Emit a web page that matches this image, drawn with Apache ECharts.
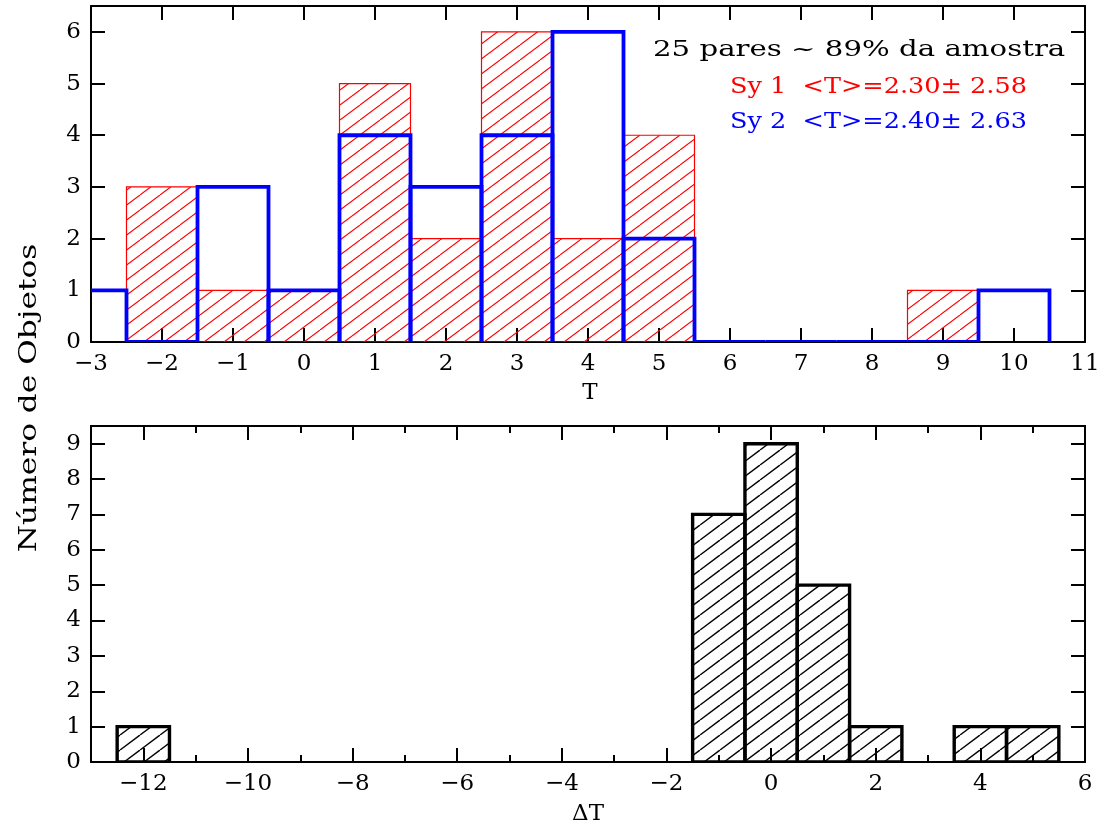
<!DOCTYPE html>
<html><head><meta charset="utf-8">
<script src="https://cdn.jsdelivr.net/npm/echarts@6/dist/echarts.min.js"></script>
<style>html,body{margin:0;padding:0;background:#fff}#c{width:1111px;height:829px}</style>
</head><body><div id="c"></div>
<script>
// ---- data ----
const tBins = [-3,-2,-1,0,1,2,3,4,5,6,7,8,9,10];
const sy1Counts = [0,3,1,1,5,2,6,2,4,0,0,0,1,0];
const sy2Counts = [1,0,3,1,4,3,4,6,2,0,0,0,0,1];
const dtBins = [-12,-11,-10,-9,-8,-7,-6,-5,-4,-3,-2,-1,0,1,2,3,4,5];
const dtCounts = [1,0,0,0,0,0,0,0,0,0,0,7,9,5,1,0,1,1];
const topXTicks = [-3,-2,-1,0,1,2,3,4,5,6,7,8,9,10,11];
const topYTicks = [0,1,2,3,4,5,6];
const botXMajor = [-12,-10,-8,-6,-4,-2,0,2,4,6];
const botXMinor = [-11,-9,-7,-5,-3,-1,1,3,5];
const botYTicks = [0,1,2,3,4,5,6,7,8,9];
const txtHeader = '25 pares ~ 89% da amostra';
const txtSy1 = 'Sy 1  <T>=2.30\u00b1 2.58';
const txtSy2 = 'Sy 2  <T>=2.40\u00b1 2.63';

const FONT = 'DejaVu Serif';
function hatch(color, w, h, lw) {
  const c = document.createElement('canvas'); c.width = w; c.height = h;
  const ctx = c.getContext('2d'); ctx.strokeStyle = color; ctx.lineWidth = lw;
  for (const dx of [-w, 0, w]) { ctx.beginPath(); ctx.moveTo(dx, h); ctx.lineTo(dx + w, 0); ctx.stroke(); }
  return c;
}
const redHatch = {image: hatch('#ff0000', 20, 15, 1.1), repeat: 'repeat'};
const blackHatch = {image: hatch('#000000', 20, 15, 1.4), repeat: 'repeat'};

const fmt = v => (v < 0 ? '\u2212' + (-v) : '' + v);
const lbl = {color: '#000', fontFamily: FONT, fontSize: 23};

function xAx(grid, pos, min, max, ticks, len, labels) {
  return {type: 'value', gridIndex: grid, position: pos, min, max,
    axisLine: {show: true, onZero: false, lineStyle: {color: '#000', width: 2}},
    axisTick: {show: true, inside: true, length: len, customValues: ticks, lineStyle: {color: '#000', width: 2}},
    axisLabel: labels ? Object.assign({show: true, margin: 11, customValues: ticks, formatter: fmt}, lbl) : {show: false},
    splitLine: {show: false}};
}
function yAx(grid, pos, min, max, ticks, labels) {
  return {type: 'value', gridIndex: grid, position: pos, min, max,
    axisLine: {show: true, onZero: false, lineStyle: {color: '#000', width: 2}},
    axisTick: {show: true, inside: true, length: 14, customValues: ticks, lineStyle: {color: '#000', width: 2}},
    axisLabel: labels ? Object.assign({show: true, margin: 10, customValues: ticks, formatter: fmt}, lbl) : {show: false},
    splitLine: {show: false}};
}

function rectSeries(bins, counts, xi, yi, fill, stroke, lw, skipZero) {
  return {type: 'custom', xAxisIndex: xi, yAxisIndex: yi, clip: true,
    data: bins.map((b, i) => [b, counts[i]]).filter(d => !skipZero || d[1] > 0),
    renderItem: (params, api) => {
      const x = api.value(0), y = api.value(1);
      const p0 = api.coord([x - 0.5, y]), p1 = api.coord([x + 0.5, 0]);
      return {type: 'rect', shape: {x: p0[0], y: p0[1], width: p1[0] - p0[0], height: p1[1] - p0[1]},
        style: {fill: fill, stroke: stroke, lineWidth: lw}};
    }};
}
function stepSeries(bins, counts, xi, yi, stroke, lw) {
  return {type: 'custom', xAxisIndex: xi, yAxisIndex: yi, clip: true,
    data: bins.map((b, i) => [b, counts[i]]),
    renderItem: (params, api) => {
      const x = api.value(0), y = api.value(1);
      const pts = [api.coord([x - 0.5, 0]), api.coord([x - 0.5, y]), api.coord([x + 0.5, y]), api.coord([x + 0.5, 0])];
      return {type: 'polyline', shape: {points: pts}, style: {fill: null, stroke: stroke, lineWidth: lw}};
    }};
}

const chart = echarts.init(document.getElementById('c'), null, {renderer: 'canvas'});
chart.setOption({
  animation: false,
  backgroundColor: '#fff',
  grid: [
    {left: 91, right: 26, top: 6, height: 336},
    {left: 91, right: 26, top: 426, height: 336}
  ],
  xAxis: [
    xAx(0, 'bottom', -3, 11, topXTicks, 14, true),
    xAx(0, 'top', -3, 11, topXTicks, 14, false),
    xAx(1, 'bottom', -13, 6, botXMajor, 14, true),
    xAx(1, 'bottom', -13, 6, botXMinor, 7, false),
    xAx(1, 'top', -13, 6, botXMajor, 14, false),
    xAx(1, 'top', -13, 6, botXMinor, 7, false)
  ],
  yAxis: [
    yAx(0, 'left', 0, 6.5, topYTicks, true),
    yAx(0, 'right', 0, 6.5, topYTicks, false),
    yAx(1, 'left', 0, 9.5, botYTicks, true),
    yAx(1, 'right', 0, 9.5, botYTicks, false)
  ],
  series: [
    rectSeries(tBins, sy1Counts, 0, 0, redHatch, '#ff0000', 1.2, true),
    stepSeries(tBins, sy2Counts, 0, 0, '#0000ff', 3.8),
    rectSeries(dtBins, dtCounts, 2, 2, blackHatch, '#000000', 3.4, true)
  ],
  graphic: [
    {type: 'text', x: 653, y: 50, scaleX: 1.27, style: {text: txtHeader, fill: '#000', font: '23px "' + FONT + '"', textVerticalAlign: 'middle'}},
    {type: 'text', x: 730, y: 87, scaleX: 1.11, style: {text: txtSy1, fill: '#ff0000', font: '23px "' + FONT + '"', textVerticalAlign: 'middle'}},
    {type: 'text', x: 730, y: 122, scaleX: 1.11, style: {text: txtSy2, fill: '#0000ff', font: '23px "' + FONT + '"', textVerticalAlign: 'middle'}},
    {type: 'text', x: 590, y: 393, style: {text: 'T', fill: '#000', font: '23px "' + FONT + '"', textAlign: 'center', textVerticalAlign: 'middle'}},
    {type: 'text', x: 588, y: 814, style: {text: '\u0394T', fill: '#000', font: '23px "' + FONT + '"', textAlign: 'center', textVerticalAlign: 'middle'}},
    {type: 'text', x: 30, y: 398, rotation: Math.PI / 2, scaleX: 1.3, style: {text: 'N\u00famero de Objetos', fill: '#000', font: '24px "' + FONT + '"', textAlign: 'center', textVerticalAlign: 'middle'}}
  ]
});
</script>
</body></html>
